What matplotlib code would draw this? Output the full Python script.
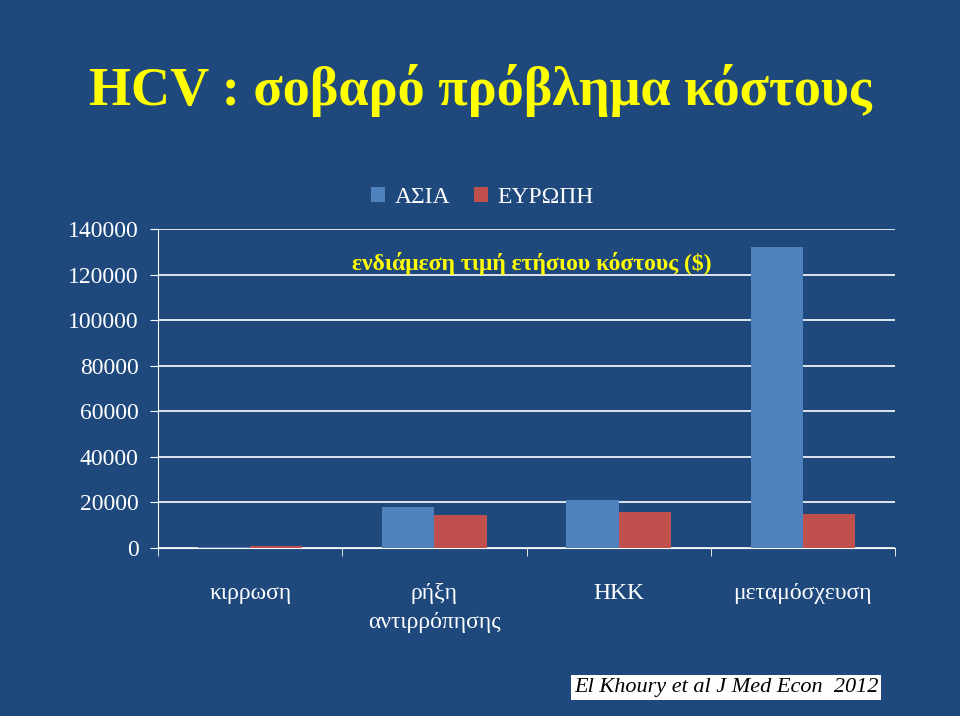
import matplotlib
matplotlib.use("Agg")
import matplotlib.pyplot as plt
import numpy as np

categories = ["κιρρωση", "ρήξη\nαντιρρόπησης", "HKK", "μεταμόσχευση"]
asia = [500, 18000, 21000, 132000]
europe = [800, 14500, 15800, 15000]
yticks = [0, 20000, 40000, 60000, 80000, 100000, 120000, 140000]

bg = "#1F497D"
plt.rcParams['font.family'] = ['Liberation Serif', 'DejaVu Serif']
fig = plt.figure(figsize=(9.6, 7.16), dpi=100, facecolor=bg)
ax = fig.add_axes([0.1646, 0.2346, 0.7677, 0.4456], facecolor=bg)
x = np.arange(len(categories))
w = 0.283
ax.bar(x - w/2, asia, w, color="#4F81BD", label="ΑΣΙΑ", zorder=3)
ax.bar(x + w/2, europe, w, color="#C0504D", label="ΕΥΡΩΠΗ", zorder=3)
ax.set_xlim(-0.5, 3.5)
ax.set_ylim(0, 140000)
ax.set_yticks(yticks)
ax.set_yticklabels([str(v) for v in yticks])
ax.grid(axis="y", color="white", lw=1.2, zorder=0)
for s in ["top", "right"]:
    ax.spines[s].set_visible(False)
for s in ["left", "bottom"]:
    ax.spines[s].set_color("white")
ax.set_xticks(np.arange(-0.5, 4, 1), minor=True)
ax.set_xticks(x)
ax.set_xticklabels(categories, va="top", linespacing=1.5)
ax.tick_params(axis="x", which="major", length=0, labelsize=17, colors="white", pad=25)
ax.tick_params(axis="x", which="minor", length=6, color="white")
ax.tick_params(axis="y", labelsize=17, colors="white", length=6, pad=8)
ax.text(0.507, 0.893, "ενδιάμεση τιμή ετήσιου κόστους ($)", transform=ax.transAxes,
        ha="center", va="center", color="yellow", fontsize=17, fontweight="bold")
ax.legend(loc="lower center", bbox_to_anchor=(0.44, 1.0), ncol=2, frameon=False,
          fontsize=17, labelcolor="white", handlelength=0.6, handleheight=0.6,
          columnspacing=1.0, handletextpad=0.4)
fig.text(0.5, 0.873, "HCV : σοβαρό πρόβλημα κόστους", ha="center", va="center",
         color="yellow", fontsize=39, fontweight="bold")
fig.text(0.915, 0.04, "El Khoury et al J Med Econ  2012", ha="right", va="center",
         color="black", fontsize=16, style="italic",
         bbox=dict(facecolor="white", edgecolor="none", pad=2))
fig.savefig("out.png", dpi=100, facecolor=bg)
